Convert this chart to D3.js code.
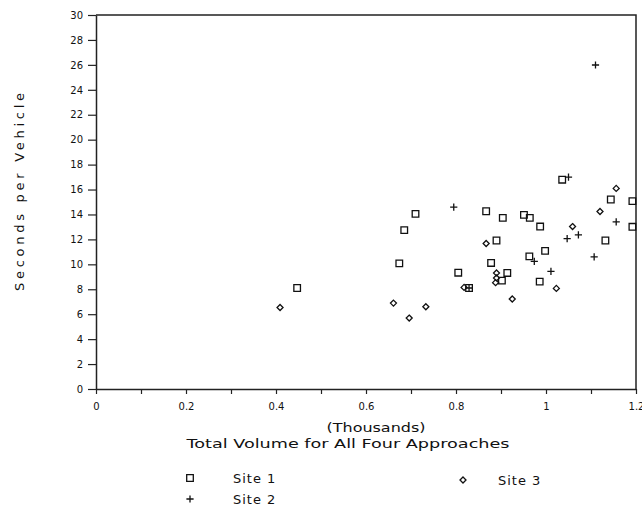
<!DOCTYPE html>
<html>
<head>
<meta charset="utf-8">
<script src="https://cdn.jsdelivr.net/npm/d3@7"></script>
<style>
    body { margin: 0; background: #fff; }
    svg { display: block; }
    text { font-family: "DejaVu Sans", sans-serif; fill: #111; }
</style>
</head>
<body>
<div id="chart"></div>
<script>
// Site 1 (squares): [volume in thousands, seconds per vehicle]
const site1 = [
    [0.447, 8.1], [0.710, 14.05], [0.685, 12.74], [0.674, 10.08],
    [0.867, 14.26], [0.904, 13.73], [0.951, 13.97], [0.964, 13.73],
    [0.987, 13.03], [1.036, 16.79], [1.144, 15.2], [1.192, 15.07],
    [1.192, 13.01], [1.132, 11.91], [0.890, 11.91], [0.998, 11.08],
    [0.963, 10.64], [0.878, 10.11], [0.805, 9.33], [0.914, 9.31],
    [0.902, 8.69], [0.986, 8.61], [0.829, 8.1]
];

// Site 2 (plus signs)
const site2 = [
    [0.795, 14.59], [1.050, 17.0], [1.110, 25.99], [1.156, 13.41],
    [1.047, 12.07], [1.072, 12.37], [1.107, 10.6], [0.974, 10.24],
    [1.011, 9.44], [0.829, 8.1]
];

// Site 3 (diamonds)
const site3 = [
    [1.156, 16.09], [1.120, 14.24], [1.059, 13.03], [0.867, 11.67],
    [0.890, 9.31], [0.890, 8.91], [0.888, 8.53], [0.818, 8.15],
    [1.023, 8.07], [0.925, 7.22], [0.661, 6.89], [0.733, 6.6],
    [0.696, 5.69], [0.409, 6.54]
];

const xTickValues = [0, 0.1, 0.2, 0.3, 0.4, 0.5, 0.6, 0.7, 0.8, 0.9, 1, 1.1, 1.2];
const xTickLabels = { 0: "0", 0.2: "0.2", 0.4: "0.4", 0.6: "0.6", 0.8: "0.8", 1: "1", 1.2: "1.2" };
const yTickValues = [0, 2, 4, 6, 8, 10, 12, 14, 16, 18, 20, 22, 24, 26, 28, 30];

const cfg = {
    WIDTH: 642,
    HEIGHT: 508,
    LEFT: 96,
    RIGHT: 636,
    TOP: 15,
    BOTTOM: 389,
};

const svg = d3.select('#chart')
    .append('svg')
    .attr('width', cfg.WIDTH)
    .attr('height', cfg.HEIGHT);

const x = d3.scaleLinear().domain([0, 1.2]).range([cfg.LEFT, cfg.RIGHT]);
const y = d3.scaleLinear().domain([0, 30]).range([cfg.BOTTOM, cfg.TOP]);

// Frame: top and right edges
svg.append('path')
    .attr('d', `M${cfg.LEFT},${cfg.TOP}H${cfg.RIGHT}V${cfg.BOTTOM}`)
    .attr('fill', 'none')
    .attr('stroke', '#222')
    .attr('stroke-width', 1.5);

// Axes
const xAxis = svg.append('g')
    .attr('transform', `translate(0,${cfg.BOTTOM})`)
    .call(d3.axisBottom(x)
        .tickValues(xTickValues)
        .tickSize(5)
        .tickSizeOuter(0)
        .tickPadding(9)
        .tickFormat(d => xTickLabels[Math.round(d * 10) / 10] || ''));

const yAxis = svg.append('g')
    .attr('transform', `translate(${cfg.LEFT},0)`)
    .call(d3.axisLeft(y)
        .tickValues(yTickValues)
        .tickSize(8)
        .tickSizeOuter(0)
        .tickPadding(5));

[xAxis, yAxis].forEach(a => {
    a.select('.domain').attr('stroke', '#222').attr('stroke-width', 1.5);
    a.selectAll('.tick line').attr('stroke', '#222').attr('stroke-width', 1.2);
    a.selectAll('.tick text')
        .style('font-family', '"DejaVu Sans", sans-serif')
        .style('font-size', '10px')
        .attr('fill', '#111');
});

// Axis titles
svg.append('text')
    .attr('x', 376)
    .attr('y', 432)
    .attr('text-anchor', 'middle')
    .style('font-size', '13px')
    .attr('textLength', 99)
    .attr('lengthAdjust', 'spacingAndGlyphs')
    .text('(Thousands)');

svg.append('text')
    .attr('x', 348)
    .attr('y', 448)
    .attr('text-anchor', 'middle')
    .style('font-size', '13px')
    .attr('textLength', 323)
    .attr('lengthAdjust', 'spacingAndGlyphs')
    .text('Total Volume for All Four Approaches');

svg.append('text')
    .attr('transform', 'translate(24,192) rotate(-90)')
    .attr('text-anchor', 'middle')
    .style('font-size', '13px')
    .attr('textLength', 198)
    .attr('lengthAdjust', 'spacing')
    .text('Seconds per Vehicle');

// Marker shapes
const square = s => `M${-s},${-s}H${s}V${s}H${-s}Z`;
const plus = s => `M${-s},0H${s}M0,${-s}V${s}`;
const diamond = s => `M0,${-s}L${s},0L0,${s}L${-s},0Z`;

const series = [
    { data: site1, shape: square(3.3), label: 'Site 1', lx: 190, ly: 478 },
    { data: site2, shape: plus(3.6), label: 'Site 2', lx: 190, ly: 499 },
    { data: site3, shape: diamond(3), label: 'Site 3', lx: 463, ly: 480 },
];

series.forEach(s => {
    svg.append('g')
        .selectAll('path')
        .data(s.data)
        .join('path')
        .attr('transform', d => `translate(${x(d[0])},${y(d[1])})`)
        .attr('d', s.shape)
        .attr('fill', 'none')
        .attr('stroke', '#111')
        .attr('stroke-width', 1.3);

    // Legend entry
    svg.append('path')
        .attr('transform', `translate(${s.lx},${s.ly})`)
        .attr('d', s.shape)
        .attr('fill', 'none')
        .attr('stroke', '#111')
        .attr('stroke-width', 1.3);

    svg.append('text')
        .attr('x', s.lx + (s.label === 'Site 3' ? 35 : 43))
        .attr('y', s.ly + 5)
        .style('font-size', '13px')
        .attr('letter-spacing', '1px')
        .text(s.label);
});
</script>
</body>
</html>
